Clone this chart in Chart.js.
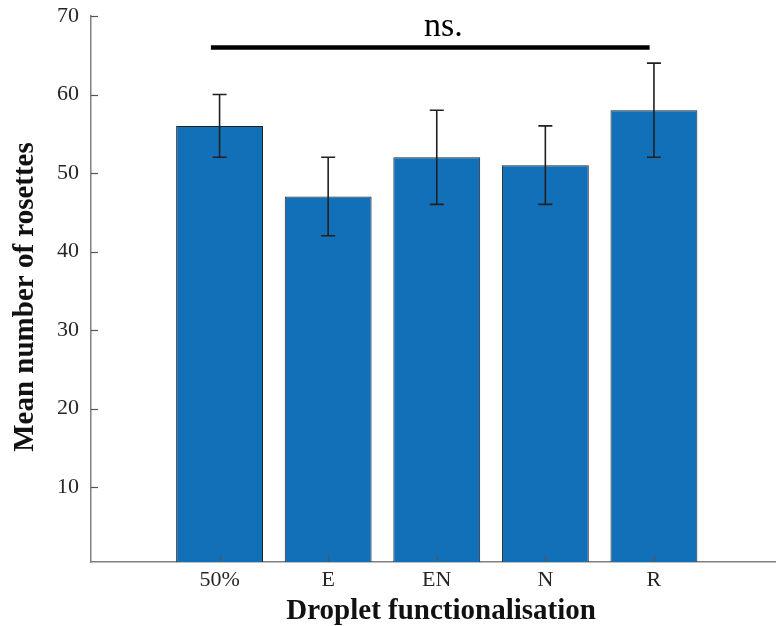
<!DOCTYPE html>
<html>
<head>
<meta charset="utf-8">
<script src="https://cdn.jsdelivr.net/npm/chart.js@4/dist/chart.umd.min.js"></script>
<style>
  html, body { margin: 0; padding: 0; background: #ffffff; }
  #wrap { width: 776px; height: 626px; position: relative; }
</style>
</head>
<body>
<div id="wrap"><canvas id="chart"></canvas></div>
<script>
// Droplet functionalisation groups and their mean rosette counts
const categories = ['50%', 'E', 'EN', 'N', 'R'];
const meanRosettes = [56, 47, 52, 51, 58];
const errorLow = [52, 42, 46, 46, 52];
const errorHigh = [60, 52, 58, 56, 64];
const yTickValues = [10, 20, 30, 40, 50, 60, 70];

// Significance bracket spanning all groups
const sigLabel = 'ns.';
const sigLevel = 66;
const sigSpan = [0.92, 4.96];

const xTitle = 'Droplet functionalisation';
const yTitle = 'Mean number of rosettes';

const SERIF = "'Liberation Serif', 'Times New Roman', Times, serif";
const AXIS_GREY = '#808080';
const INK = '#262626';

// Error bars, inward tick marks, significance bracket and axis titles
const overlayPlugin = {
  id: 'overlay',
  afterDatasetsDraw(chart) {
    const { ctx, scales: { x, y } } = chart;
    ctx.save();

    // error bars
    ctx.strokeStyle = '#202020';
    ctx.lineWidth = 1.6;
    const cap = 7;
    categories.forEach((c, i) => {
      const px = x.getPixelForValue(i + 1);
      const top = y.getPixelForValue(errorHigh[i]);
      const bot = y.getPixelForValue(errorLow[i]);
      ctx.beginPath();
      ctx.moveTo(px, top); ctx.lineTo(px, bot);
      ctx.moveTo(px - cap, top); ctx.lineTo(px + cap, top);
      ctx.moveTo(px - cap, bot); ctx.lineTo(px + cap, bot);
      ctx.stroke();
    });

    // inward ticks on both axes
    ctx.strokeStyle = '#555555';
    ctx.lineWidth = 1.2;
    const tl = 7;
    const left = chart.chartArea.left;
    const bottom = chart.chartArea.bottom;
    yTickValues.forEach(v => {
      const py = Math.round(y.getPixelForValue(v)) + 0.5;
      ctx.beginPath();
      ctx.moveTo(left, py); ctx.lineTo(left + tl, py);
      ctx.stroke();
    });
    categories.forEach((c, i) => {
      const px = Math.round(x.getPixelForValue(i + 1)) + 0.5;
      ctx.beginPath();
      ctx.moveTo(px, bottom); ctx.lineTo(px, bottom - tl);
      ctx.stroke();
    });

    // significance bracket
    const sy = y.getPixelForValue(sigLevel);
    ctx.strokeStyle = '#000000';
    ctx.lineWidth = 4.5;
    ctx.beginPath();
    ctx.moveTo(x.getPixelForValue(sigSpan[0]), sy);
    ctx.lineTo(x.getPixelForValue(sigSpan[1]), sy);
    ctx.stroke();

    ctx.fillStyle = '#000000';
    ctx.font = '34px ' + SERIF;
    ctx.textAlign = 'center';
    ctx.textBaseline = 'alphabetic';
    ctx.fillText(sigLabel, x.getPixelForValue(3.06), sy - 11);

    // axis titles
    ctx.fillStyle = '#111111';
    ctx.font = 'bold 29px ' + SERIF;
    ctx.textAlign = 'center';
    ctx.textBaseline = 'alphabetic';
    ctx.fillText(xTitle, x.getPixelForValue(3.04), chart.height - 7);

    ctx.translate(33, (chart.chartArea.top + chart.chartArea.bottom) / 2 + 8);
    ctx.rotate(-Math.PI / 2);
    ctx.fillText(yTitle, 0, 0);

    ctx.restore();
  }
};

new Chart(document.getElementById('chart'), {
  type: 'bar',
  data: {
    datasets: [{
      label: yTitle,
      data: categories.map((c, i) => ({ x: i + 1, y: meanRosettes[i] })),
      backgroundColor: '#1270b8',
      borderColor: '#222222',
      borderWidth: 1,
      borderSkipped: false,
      barPercentage: 0.8,
      categoryPercentage: 1.0
    }]
  },
  options: {
    responsive: true,
    maintainAspectRatio: false,
    animation: false,
    devicePixelRatio: 1,
    layout: { padding: { top: 16, right: 0, bottom: 0, left: 0 } },
    plugins: {
      legend: { display: false },
      tooltip: { enabled: false }
    },
    scales: {
      x: {
        type: 'linear',
        offset: false,
        min: -0.184,
        max: 6.124,
        afterBuildTicks(scale) {
          scale.ticks = categories.map((c, i) => ({ value: i + 1 }));
        },
        afterFit(scale) {
          scale.height = 64;
          scale.paddingLeft = 0;
          scale.paddingRight = 0;
        },
        grid: { display: false, drawTicks: false },
        border: { display: true, color: AXIS_GREY, width: 1.5 },
        ticks: {
          padding: 5,
          color: INK,
          font: { family: SERIF, size: 22 },
          callback: (v) => categories[v - 1] ?? ''
        }
      },
      y: {
        min: 0.45,
        max: 70,
        afterBuildTicks(scale) {
          scale.ticks = yTickValues.map(v => ({ value: v }));
        },
        afterFit(scale) {
          scale.width = 91;
          scale.paddingTop = 0;
          scale.paddingBottom = 0;
        },
        grid: { display: false, drawTicks: false },
        border: { display: true, color: AXIS_GREY, width: 1.5 },
        ticks: {
          padding: 12,
          color: INK,
          font: { family: SERIF, size: 22 }
        }
      }
    }
  },
  plugins: [overlayPlugin]
});
</script>
</body>
</html>
